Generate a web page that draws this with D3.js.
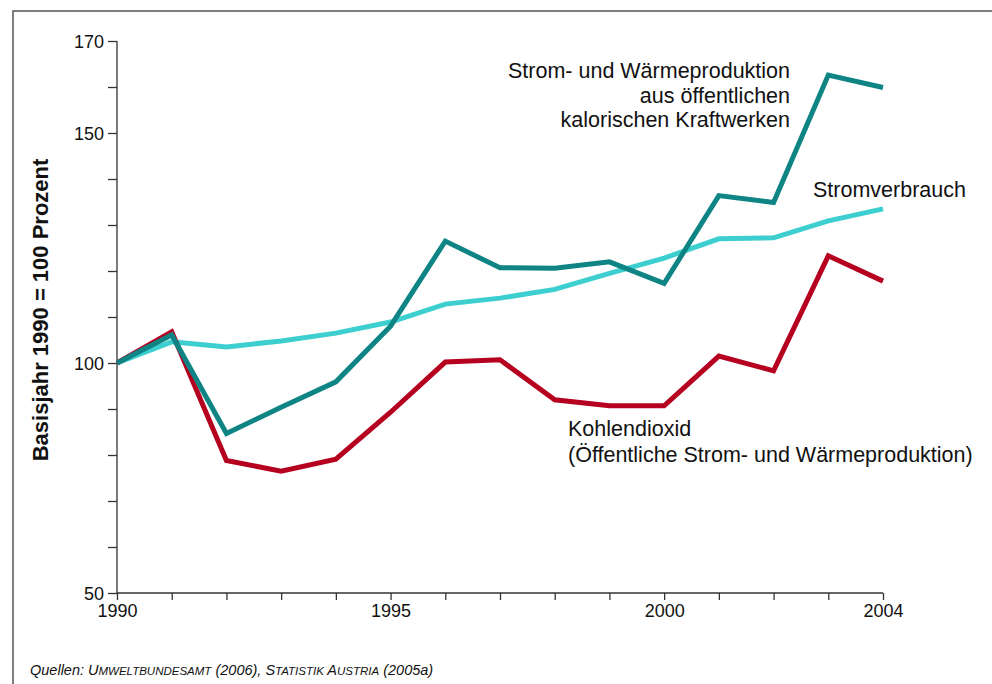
<!DOCTYPE html>
<html><head><meta charset="utf-8">
<script src="https://cdn.jsdelivr.net/npm/d3@7"></script>
<style>
body{margin:0;background:#fff;}
text{font-family:"Liberation Sans",Arial,sans-serif;fill:#111;}
</style></head>
<body><svg id="c" width="992" height="684"></svg>
<script>
const years = [1990,1991,1992,1993,1994,1995,1996,1997,1998,1999,2000,2001,2002,2003,2004];
const produktion = [100,106.1,84.7,90.4,95.9,108,126.5,120.7,120.6,122.0,117.3,136.4,134.9,162.6,159.9];
const verbrauch = [100,104.6,103.5,104.8,106.5,108.9,112.8,114.1,116.0,119.5,122.8,127.0,127.2,130.9,133.5];
const kohlendioxid = [100,106.8,78.8,76.5,79.1,89.3,100.2,100.7,92.0,90.7,90.7,101.5,98.3,123.3,117.8];
const yTickLabels = [50,100,150,170];
const xTickLabels = [1990,1995,2000,2004];

const svg = d3.select("#c");
svg.append("rect").attr("x",13).attr("y",11).attr("width",1000).attr("height",700)
  .attr("fill","none").attr("stroke","#555").attr("stroke-width",1.5);

const x = d3.scaleLinear().domain([1990,2004]).range([117,883]);
const y = d3.scaleLinear().domain([50,170]).range([593,41]);

// y axis
const yAxis = d3.axisLeft(y).tickValues(d3.range(50,171,10)).tickSize(9)
  .tickFormat(d => yTickLabels.includes(d) ? d : "");
const gy = svg.append("g").attr("transform","translate(117,0)").call(yAxis);
gy.select(".domain").attr("stroke","#333").attr("stroke-width",1.3).attr("d","M0,41V593");
gy.selectAll(".tick line").attr("stroke","#333").attr("stroke-width",1.3);
gy.selectAll(".tick text").attr("font-size",18).attr("font-family","Liberation Sans, Arial, sans-serif").attr("fill","#111").attr("x",-13).attr("dy","0.35em");

// x axis
const xAxis = d3.axisBottom(x).tickValues(years).tickSize(7)
  .tickFormat(d => xTickLabels.includes(d) ? d : "");
const gx = svg.append("g").attr("transform","translate(0,593)").call(xAxis);
gx.select(".domain").attr("stroke","#333").attr("stroke-width",1.3).attr("d","M117,0H883");
gx.selectAll(".tick line").attr("stroke","#333").attr("stroke-width",1.3);
gx.selectAll(".tick text").attr("font-size",18).attr("font-family","Liberation Sans, Arial, sans-serif").attr("fill","#111").attr("y",11);

const line = d3.line().x((d,i)=>x(years[i])).y(d=>y(d));
const series = [
  {v: verbrauch, c:"#3dcfcf"},
  {v: kohlendioxid, c:"#b5001f"},
  {v: produktion, c:"#0e8484"}
];
series.forEach(s=>{
  svg.append("path").datum(s.v).attr("d",line).attr("fill","none")
    .attr("stroke",s.c).attr("stroke-width",5).attr("stroke-linejoin","miter");
});

// y label
svg.append("text").attr("transform","translate(48,310) rotate(-90)")
  .attr("text-anchor","middle").attr("font-size",22).attr("font-weight","bold")
  .text("Basisjahr 1990 = 100 Prozent");

// annotations
const ann = svg.append("text").attr("font-size",21.5).attr("text-anchor","end");
["Strom- und Wärmeproduktion","aus öffentlichen","kalorischen Kraftwerken"].forEach((t,i)=>{
  ann.append("tspan").attr("x",790).attr("y",78+i*24.5).text(t);
});
svg.append("text").attr("x",813).attr("y",197).attr("font-size",21.5).text("Stromverbrauch");
const k = svg.append("text").attr("font-size",21.5);
k.append("tspan").attr("x",568).attr("y",436).text("Kohlendioxid");
k.append("tspan").attr("x",568).attr("y",462).text("(Öffentliche Strom- und Wärmeproduktion)");

// source
const src = svg.append("text").attr("x",30).attr("y",675).attr("font-size",14.5).attr("font-style","italic");
src.append("tspan").text("Quellen: U");
src.append("tspan").attr("font-size",11.5).text("MWELTBUNDESAMT");
src.append("tspan").text(" (2006), S");
src.append("tspan").attr("font-size",11.5).text("TATISTIK");
src.append("tspan").text(" A");
src.append("tspan").attr("font-size",11.5).text("USTRIA");
src.append("tspan").text(" (2005a)");
</script></body></html>
